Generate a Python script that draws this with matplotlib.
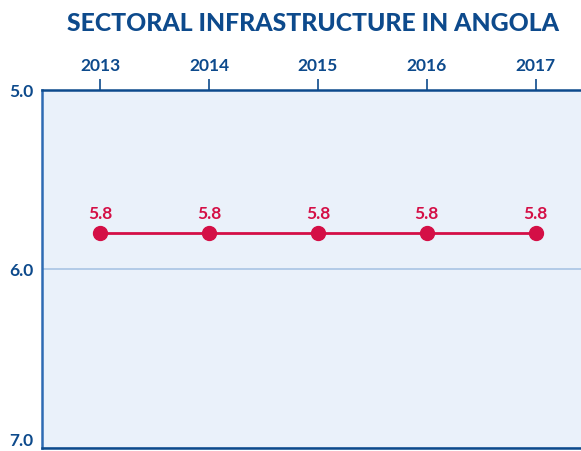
import matplotlib
matplotlib.use("Agg")
import matplotlib.pyplot as plt

years = ["2013", "2014", "2015", "2016", "2017"]
values = [5.8, 5.8, 5.8, 5.8, 5.8]
yticks = [5.0, 6.0, 7.0]

navy = "#0d4a8c"
red = "#d40f46"

plt.rcParams["font.family"] = ["Lato", "DejaVu Sans"]

fig = plt.figure(figsize=(5.81, 4.52), dpi=100)
ax = fig.add_axes([0.0723, 0.0066, 0.93, 0.7925])
ax.set_facecolor("#eaf1fa")

x = list(range(len(years)))
ax.plot(x, values, color=red, lw=2, marker="o", ms=10, zorder=3, clip_on=False)
for xi, v in zip(x, values):
    ax.annotate(f"{v:.1f}", (xi, v), xytext=(0, 9), textcoords="offset points",
                ha="center", va="bottom", color=red, fontsize=12.5, fontweight="bold")

ax.set_xlim(-0.535, 4.43)
ax.set_ylim(7.0, 5.0)
ax.set_xticks(x)
ax.set_xticklabels(years)
ax.set_yticks(yticks)
ax.set_yticklabels([f"{t:.1f}" for t in yticks])
ax.xaxis.tick_top()
ax.tick_params(axis="x", length=8, width=1.2, color=navy, labelcolor=navy,
               labelsize=12.5, pad=4)
ax.tick_params(axis="y", length=0, labelcolor=navy, labelsize=12.5, pad=6)
for lab in ax.get_xticklabels() + ax.get_yticklabels():
    lab.set_fontweight("bold")
ax.get_yticklabels()[0].set_va("center_baseline")
ax.get_yticklabels()[-1].set_va("bottom")

ax.grid(axis="y", color="#a9c4e4", lw=1.2)
ax.grid(axis="x", visible=False)
for s in ["top", "left", "bottom"]:
    ax.spines[s].set_color(navy)
    ax.spines[s].set_linewidth(1.8)
ax.spines["left"].set_color("#2e6bb3")
ax.spines["right"].set_visible(False)

fig.text(0.539, 0.948, "SECTORAL INFRASTRUCTURE IN ANGOLA", ha="center", va="center",
         color=navy, fontsize=17.8, fontweight="black")

fig.savefig("out.png", dpi=100)
